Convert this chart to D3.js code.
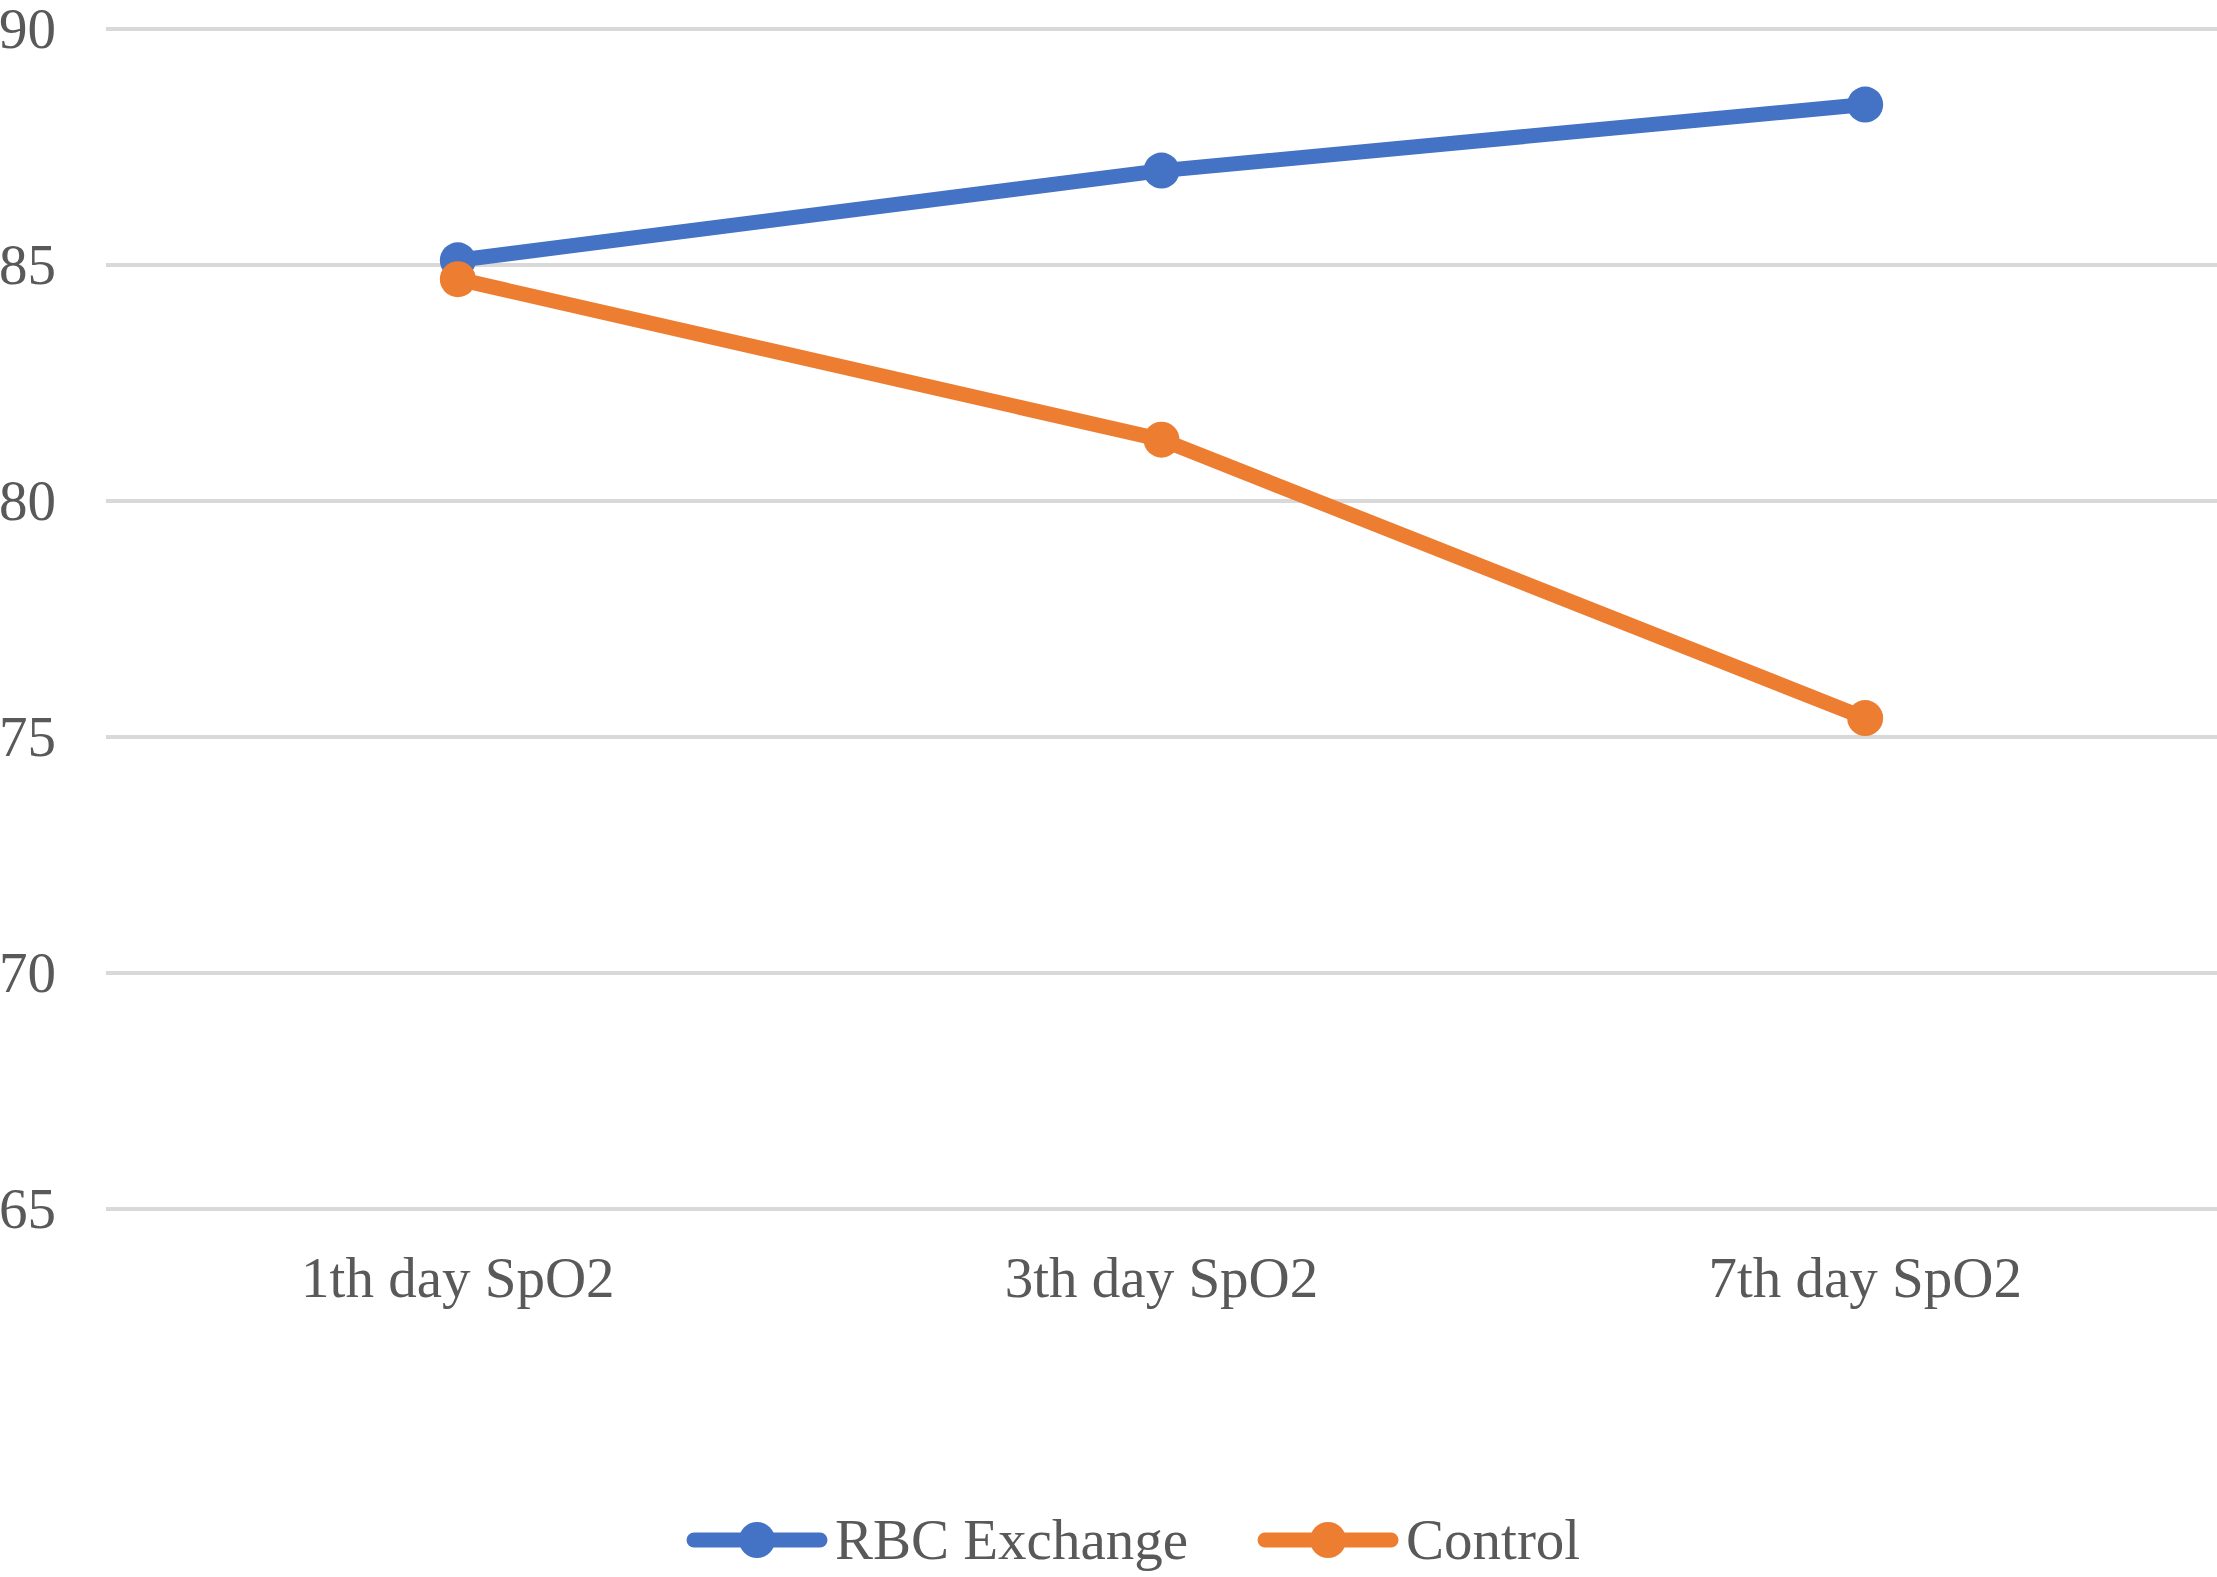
<!DOCTYPE html>
<html>
<head>
<meta charset="utf-8">
<script src="https://cdn.jsdelivr.net/npm/d3@7"></script>
<style>
  body { margin: 0; background: #fff; }
  text { font-family: "Liberation Serif", "Times New Roman", serif; fill: #595959; }
</style>
</head>
<body>
<div id="chart"></div>
<script>
// data
const categories = ["1th day SpO2", "3th day SpO2", "7th day SpO2"];
const seriesNames = ["RBC Exchange", "Control"];
const rbcValues = [85.1, 87.0, 88.4];
const controlValues = [84.7, 81.3, 75.4];
const yTicks = [65, 70, 75, 80, 85, 90];

const colors = ["#4472C4", "#ED7D31"];
const W = 2217, H = 1577;
const plot = {left: 106, right: 2217, top: 29, bottom: 1209};

const svg = d3.select("#chart").append("svg")
    .attr("width", W)
    .attr("height", H);

const x = d3.scalePoint()
    .domain(categories)
    .range([plot.left, plot.right])
    .padding(0.5);

const y = d3.scaleLinear()
    .domain([65, 90])
    .range([plot.bottom, plot.top]);

// gridlines
svg.append("g")
    .selectAll("line")
    .data(yTicks)
    .enter().append("line")
    .attr("x1", plot.left)
    .attr("x2", plot.right)
    .attr("y1", d => y(d))
    .attr("y2", d => y(d))
    .attr("stroke", "#D9D9D9")
    .attr("stroke-width", 4);

// y labels
svg.append("g")
    .selectAll("text")
    .data(yTicks)
    .enter().append("text")
    .attr("x", 56)
    .attr("y", d => y(d) + 19)
    .attr("text-anchor", "end")
    .style("font-size", "57px")
    .text(d => d);

// x labels
svg.append("g")
    .selectAll("text")
    .data(categories)
    .enter().append("text")
    .attr("x", d => x(d))
    .attr("y", 1297)
    .attr("text-anchor", "middle")
    .style("font-size", "57px")
    .text(d => d);

const series = [rbcValues, controlValues].map((vals, i) => ({
    name: seriesNames[i],
    color: colors[i],
    points: categories.map((c, j) => ({cat: c, value: vals[j]}))
}));

const line = d3.line()
    .x(d => x(d.cat))
    .y(d => y(d.value));

// lines + markers, control drawn last so it sits on top at day 1
series.forEach(s => {
    const g = svg.append("g");
    g.append("path")
        .datum(s.points)
        .attr("d", line)
        .attr("fill", "none")
        .attr("stroke", s.color)
        .attr("stroke-width", 15)
        .attr("stroke-linejoin", "round")
        .attr("stroke-linecap", "round");
    g.selectAll("circle")
        .data(s.points)
        .enter().append("circle")
        .attr("cx", d => x(d.cat))
        .attr("cy", d => y(d.value))
        .attr("r", 18)
        .attr("fill", s.color);
});

// legend
const legend = svg.append("g");
const legendY = 1540;
let lx = 687;
series.forEach(s => {
    legend.append("line")
        .attr("x1", lx + 7)
        .attr("x2", lx + 133)
        .attr("y1", legendY)
        .attr("y2", legendY)
        .attr("stroke", s.color)
        .attr("stroke-width", 15)
        .attr("stroke-linecap", "round");
    legend.append("circle")
        .attr("cx", lx + 70)
        .attr("cy", legendY)
        .attr("r", 18)
        .attr("fill", s.color);
    const t = legend.append("text")
        .attr("x", lx + 148)
        .attr("y", 1559)
        .style("font-size", "57px")
        .text(s.name);
    lx = lx + 148 + t.node().getComputedTextLength() + 70;
});
</script>
</body>
</html>
